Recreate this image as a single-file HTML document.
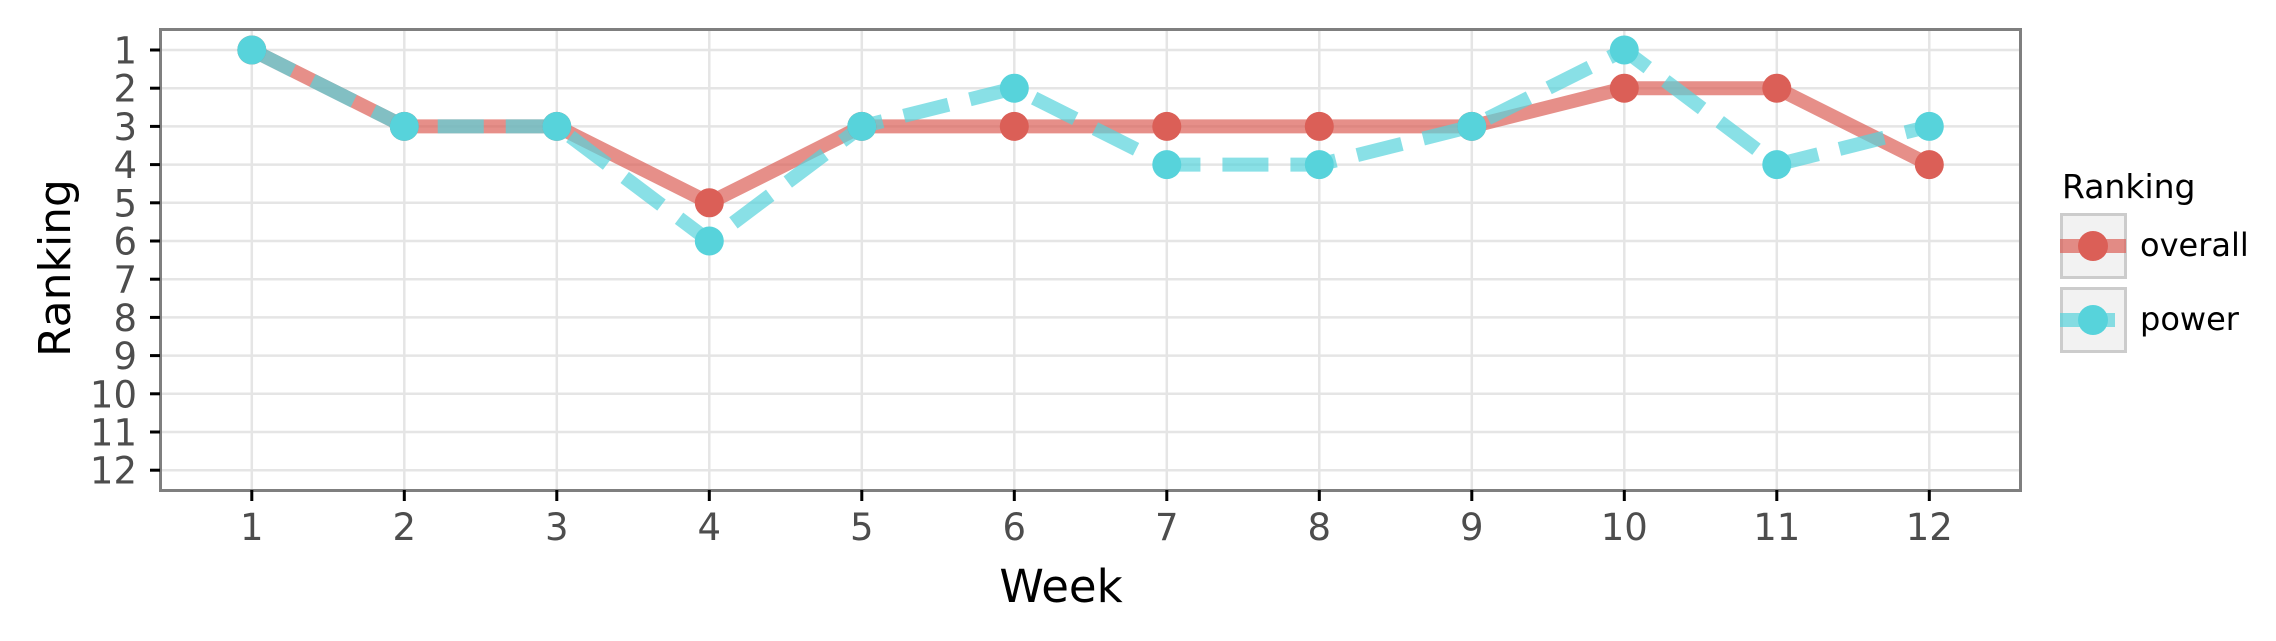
<!DOCTYPE html>
<html><head><meta charset="utf-8"><style>
html,body{margin:0;padding:0;background:#fff;}
svg{display:block;font-family:"DejaVu Sans","Liberation Sans",sans-serif;}
</style></head><body>
<svg id="chart" width="2276" height="641" viewBox="0 0 2276 641" xmlns="http://www.w3.org/2000/svg">
<g id="grid"></g>
<g id="series"></g>
<rect x="160.5" y="29.5" width="1860" height="461" fill="none" stroke="#7f7f7f" stroke-width="3"/>
<g id="axes"></g>
<text x="1061" y="602" font-size="45" text-anchor="middle" fill="#000">Week</text>
<text transform="translate(70,268) rotate(-90)" font-size="44" text-anchor="middle" fill="#000">Ranking</text>
<g>
<text x="2062" y="198" font-size="33" fill="#000">Ranking</text>
<g>
<rect x="2061.5" y="214.5" width="64" height="63" fill="#f2f2f2" stroke="#cccccc" stroke-width="3"/>
<line x1="2060" y1="246" x2="2126" y2="246" stroke="#db5f57" stroke-opacity="0.7" stroke-width="14"/>
<circle cx="2093" cy="246" r="15" fill="#db5f57"/>
<text x="2140" y="256" font-size="32" fill="#000">overall</text>
</g>
<g>
<rect x="2061.5" y="288.5" width="64" height="63" fill="#f2f2f2" stroke="#cccccc" stroke-width="3"/>
<line x1="2060" y1="320" x2="2115" y2="320" stroke="#57d3db" stroke-opacity="0.7" stroke-width="14"/>
<circle cx="2093" cy="320" r="15" fill="#57d3db"/>
<text x="2140" y="330" font-size="32" fill="#000">power</text>
</g>
</g>
</svg>
<script>
const weeks = [1,2,3,4,5,6,7,8,9,10,11,12];
const overall = [1,3,3,5,3,3,3,3,3,2,2,4];
const power = [1,3,3,6,3,2,4,4,3,1,4,3];
const yTicks = [1,2,3,4,5,6,7,8,9,10,11,12];
const xTicks = [1,2,3,4,5,6,7,8,9,10,11,12];

const NS = "http://www.w3.org/2000/svg";
function xS(w){ return 251.8 + (w-1)*152.5; }
function yS(r){ return 50 + (r-1)*38.2; }
function mk(tag, attrs, parent){
  const e = document.createElementNS(NS, tag);
  for (const k in attrs) e.setAttribute(k, attrs[k]);
  parent.appendChild(e); return e;
}
const grid = document.getElementById('grid');
const axes = document.getElementById('axes');
const series = document.getElementById('series');

yTicks.forEach(t => {
  const g = mk('line', {x1:160, x2:2021, y1:yS(t), y2:yS(t), stroke:'#e5e5e5', 'stroke-width':2.5}, grid);
  
  
  const tk = mk('line', {x1:150, x2:160, y1:yS(t), y2:yS(t), stroke:'#000', 'stroke-width':3}, axes);
  
  
  const lb = mk('text', {x:137, y:yS(t)+13.5, 'font-size':37, 'text-anchor':'end', fill:'#4d4d4d'}, axes);
  lb.textContent = t;
  
  
});
xTicks.forEach(t => {
  const g = mk('line', {x1:xS(t), x2:xS(t), y1:29, y2:490, stroke:'#e5e5e5', 'stroke-width':2.5}, grid);
  
  
  const tk = mk('line', {x1:xS(t), x2:xS(t), y1:490, y2:501, stroke:'#000', 'stroke-width':3}, axes);
  
  
  const lb = mk('text', {x:xS(t), y:540, 'font-size':37, 'text-anchor':'middle', fill:'#4d4d4d'}, axes);
  lb.textContent = t;
  
  
});

const pts = arr => weeks.map((w,i) => xS(w)+','+yS(arr[i])).join(' ');
const lo = mk('polyline', {points:pts(overall), fill:'none', stroke:'#db5f57', 'stroke-opacity':0.7, 'stroke-width':14, 'stroke-linejoin':'round'}, series);


const lp = mk('polyline', {points:pts(power), fill:'none', stroke:'#57d3db', 'stroke-opacity':0.7, 'stroke-width':14, 'stroke-dasharray':'46 22'}, series);


weeks.forEach((w,i) => {
  const c = mk('circle', {cx:xS(w), cy:yS(overall[i]), r:14.5, fill:'#db5f57'}, series);
  
  
});
weeks.forEach((w,i) => {
  const c = mk('circle', {cx:xS(w), cy:yS(power[i]), r:14.5, fill:'#57d3db'}, series);
  
  
});
</script>
</body></html>
